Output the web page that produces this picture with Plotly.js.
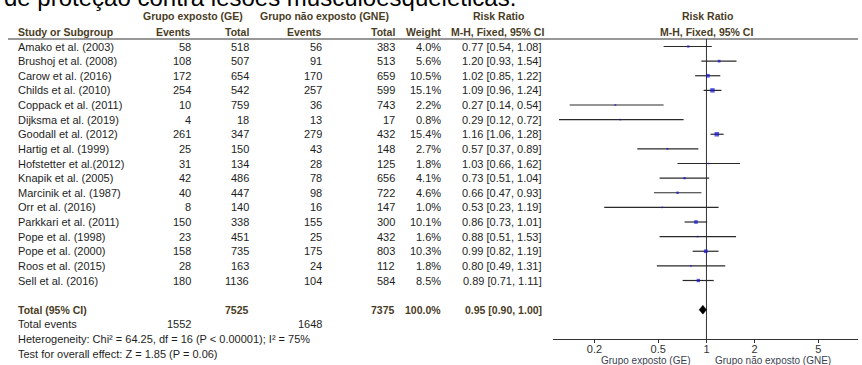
<!DOCTYPE html>
<html>
<head>
<meta charset="utf-8">
<script src="https://cdn.plot.ly/plotly-3.0.1.min.js"></script>
<style>
  html, body { margin: 0; padding: 0; background: #ffffff; }
  #chart { width: 862px; height: 365px; }
</style>
</head>
<body>
<div id="chart"></div>
<script>
// Studies included in the meta-analysis (fixed-effect, Mantel-Haenszel risk ratio)
const studies = [
  "Amako et al. (2003)", "Brushoj et al. (2008)", "Carow et al. (2016)", "Childs et al. (2010)",
  "Coppack et al. (2011)", "Dijksma et al. (2019)", "Goodall et al. (2012)", "Hartig et al. (1999)",
  "Hofstetter et al.(2012)", "Knapik et al. (2005)", "Marcinik et al. (1987)", "Orr et al. (2016)",
  "Parkkari et al. (2011)", "Pope et al. (1998)", "Pope et al. (2000)", "Roos et al. (2015)",
  "Sell et al. (2016)"
];
const geEvents  = [58, 108, 172, 254, 10, 4, 261, 25, 31, 42, 40, 8, 150, 23, 158, 28, 180];
const geTotal   = [518, 507, 654, 542, 759, 18, 347, 150, 134, 486, 447, 140, 338, 451, 735, 163, 1136];
const gneEvents = [56, 91, 170, 257, 36, 13, 279, 43, 28, 78, 98, 16, 155, 25, 175, 24, 104];
const gneTotal  = [383, 513, 659, 599, 743, 17, 432, 148, 125, 656, 722, 147, 300, 432, 803, 112, 584];
const weight    = [4.0, 5.6, 10.5, 15.1, 2.2, 0.8, 15.4, 2.7, 1.8, 4.1, 4.6, 1.0, 10.1, 1.6, 10.3, 1.8, 8.5];
const rr        = [0.77, 1.20, 1.02, 1.09, 0.27, 0.29, 1.16, 0.57, 1.03, 0.73, 0.66, 0.53, 0.86, 0.88, 0.99, 0.80, 0.89];
const rrLow     = [0.54, 0.93, 0.85, 0.96, 0.14, 0.12, 1.06, 0.37, 0.66, 0.51, 0.47, 0.23, 0.73, 0.51, 0.82, 0.49, 0.71];
const rrHigh    = [1.08, 1.54, 1.22, 1.24, 0.54, 0.72, 1.28, 0.89, 1.62, 1.04, 0.93, 1.19, 1.01, 1.53, 1.19, 1.31, 1.11];

// Pooled result
const totalGE = 7525, totalGNE = 7375, totalWeight = 100.0;
const pooledRR = 0.95, pooledLow = 0.90, pooledHigh = 1.00;
const eventsGE = 1552, eventsGNE = 1648;
const heterogeneityText = "Heterogeneity: Chi\u00b2 = 64.25, df = 16 (P < 0.00001); I\u00b2 = 75%";
const overallEffectText = "Test for overall effect: Z = 1.85 (P = 0.06)";

// Axis ticks of the forest plot
const tickValues = [0.2, 0.5, 1, 2, 5];
const tickLabels = ["0.2", "0.5", "1", "2", "5"];

const W = 862, H = 365;
const FONT = '"Liberation Sans", Arial, sans-serif';
const TXT = '#1e1e1e';
const HEAD = '#4a3d1f';
const px = v => v / W;
const py = v => 1 - v / H;

// Plot rows (y-axis units): studies 0..16, pooled total on row 18
const totalRow = 18;
const yTop = -0.513, yBottom = 20.0;
const plotTopPx = 39, plotBottomPx = 339;
const rowPx = r => plotTopPx + (r - yTop) * (plotBottomPx - plotTopPx) / (yBottom - yTop);

const annotations = [];
function txt(text, x, row, anchor, opts) {
  opts = opts || {};
  annotations.push({
    text: opts.bold ? '<b>' + text + '</b>' : text,
    x: px(x), xref: 'paper', xanchor: anchor,
    y: py(rowPx(row)), yref: 'paper', yanchor: 'middle',
    showarrow: false,
    font: { family: FONT, size: opts.size || 11, color: opts.color || TXT }
  });
}

// Header rows
const hdr = { bold: true, color: HEAD, size: 10.5 };
txt("Grupo exposto (GE)", 192.5, -2.1, 'center', hdr);
txt("Grupo n\u00e3o exposto (GNE)", 324, -2.1, 'center', hdr);
txt("Risk Ratio", 498, -2.1, 'center', hdr);
txt("Risk Ratio", 707, -2.1, 'center', hdr);
txt("Study or Subgroup", 16, -1.0, 'left', hdr);
txt("Events", 193, -1.0, 'right', hdr);
txt("Total", 251, -1.0, 'right', hdr);
txt("Events", 324, -1.0, 'right', hdr);
txt("Total", 397, -1.0, 'right', hdr);
txt("Weight", 443, -1.0, 'right', hdr);
txt("M-H, Fixed, 95% CI", 497.5, -1.0, 'center', hdr);
txt("M-H, Fixed, 95% CI", 706, -1.0, 'center', hdr);

// Study rows
studies.forEach((s, i) => {
  txt(s, 16, i, 'left');
  txt(String(geEvents[i]), 193, i, 'right');
  txt(String(geTotal[i]), 251, i, 'right');
  txt(String(gneEvents[i]), 324, i, 'right');
  txt(String(gneTotal[i]), 397, i, 'right');
  txt(weight[i].toFixed(1) + '%', 443, i, 'right');
  txt(rr[i].toFixed(2) + ' [' + rrLow[i].toFixed(2) + ', ' + rrHigh[i].toFixed(2) + ']', 544, i, 'right');
});

// Total rows
const tot = { bold: true, color: HEAD, size: 10.5 };
txt("Total (95% CI)", 16, totalRow, 'left', tot);
txt(String(totalGE), 251, totalRow, 'right', tot);
txt(String(totalGNE), 397, totalRow, 'right', tot);
txt(totalWeight.toFixed(1) + '%', 443, totalRow, 'right', tot);
txt(pooledRR.toFixed(2) + ' [' + pooledLow.toFixed(2) + ', ' + pooledHigh.toFixed(2) + ']', 544, totalRow, 'right', tot);
txt("Total events", 16, totalRow + 1, 'left');
txt(String(eventsGE), 193, totalRow + 1, 'right');
txt(String(eventsGNE), 324, totalRow + 1, 'right');
txt(heterogeneityText, 16, totalRow + 2, 'left');
txt(overallEffectText, 16, totalRow + 3, 'left');

// Direction labels under the axis
annotations.push({
  text: "Grupo exposto (GE)", x: px(692), xref: 'paper', xanchor: 'right',
  y: py(360), yref: 'paper', yanchor: 'middle', showarrow: false,
  font: { family: FONT, size: 10, color: '#3a4150' }
});
annotations.push({
  text: "Grupo n\u00e3o exposto (GNE)", x: px(713), xref: 'paper', xanchor: 'left',
  y: py(360), yref: 'paper', yanchor: 'middle', showarrow: false,
  font: { family: FONT, size: 10, color: '#3a4150' }
});

// Heading line of the page above the table (its upper half runs off the top edge)
annotations.push({
  text: "de prote\u00e7\u00e3o contra les\u00f5es musculoesquel\u00e9ticas.",
  x: px(2), xref: 'paper', xanchor: 'left',
  y: py(13), yref: 'paper', yanchor: 'bottom', showarrow: false,
  font: { family: FONT, size: 24, color: '#000000' }
});

// Traces: confidence intervals, weighted squares, pooled diamond, line of no effect
const ciX = [], ciY = [];
studies.forEach((s, i) => { ciX.push(rrLow[i], rrHigh[i], null); ciY.push(i, i, null); });

const diamondHalf = 0.3;

const traces = [
  {
    x: [1, 1], y: [yTop, yBottom], mode: 'lines', type: 'scatter',
    line: { color: '#333333', width: 1 }, hoverinfo: 'skip', cliponaxis: false
  },
  {
    x: ciX, y: ciY, mode: 'lines', type: 'scatter',
    line: { color: '#2a2a2a', width: 1.2 }, hoverinfo: 'skip'
  },
  {
    x: rr, y: studies.map((s, i) => i), mode: 'markers', type: 'scatter',
    marker: { symbol: 'square', color: '#1414d2',
      size: weight.map(w => Math.max(1.6, 1.15 * Math.sqrt(w))), line: { width: 0 } },
    text: studies, hoverinfo: 'text+x'
  },
  {
    x: [pooledLow, pooledRR, pooledHigh, pooledRR, pooledLow],
    y: [totalRow, totalRow - diamondHalf, totalRow, totalRow + diamondHalf, totalRow],
    mode: 'lines', type: 'scatter', fill: 'toself', fillcolor: '#000000',
    line: { color: '#000000', width: 0.5 }, hoverinfo: 'skip'
  }
];

const layout = {
  width: W, height: H,
  margin: { l: 0, r: 0, t: 0, b: 0 },
  paper_bgcolor: '#ffffff', plot_bgcolor: 'rgba(0,0,0,0)',
  showlegend: false,
  xaxis: {
    type: 'log', domain: [px(553), px(858)], range: [-0.958, 0.946],
    tickvals: tickValues, ticktext: tickLabels,
    showline: true, linecolor: '#333333', linewidth: 1,
    ticks: 'outside', ticklen: 3, tickcolor: '#333333',
    ticklabelstandoff: -3,
    showgrid: false, zeroline: false, fixedrange: true,
    tickfont: { family: FONT, size: 11, color: '#333333' }
  },
  yaxis: {
    domain: [py(plotBottomPx), py(plotTopPx)], range: [yBottom, yTop],
    visible: false, showgrid: false, zeroline: false, fixedrange: true
  },
  shapes: [
    { type: 'line', xref: 'paper', yref: 'paper', x0: px(8), x1: px(858), y0: py(plotTopPx), y1: py(plotTopPx),
      line: { color: '#333333', width: 1.2 } }
  ],
  annotations: annotations
};

Plotly.newPlot('chart', traces, layout, { staticPlot: true, displayModeBar: false });
</script>
</body>
</html>
